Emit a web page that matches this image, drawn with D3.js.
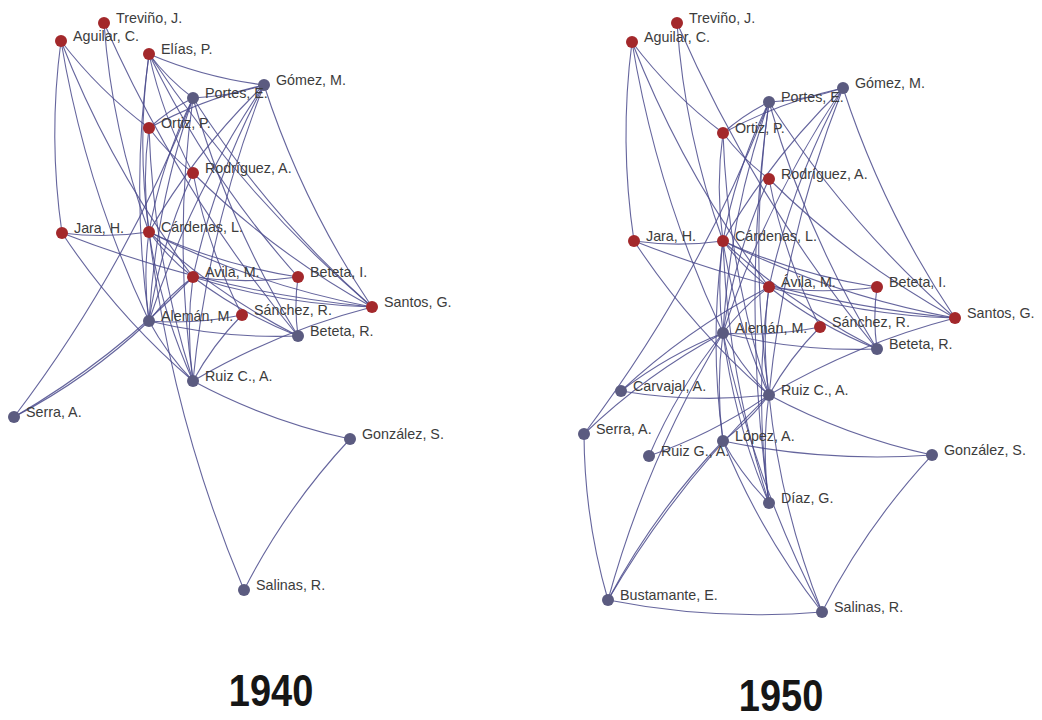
<!DOCTYPE html>
<html>
<head>
<meta charset="utf-8">
<script src="https://cdn.jsdelivr.net/npm/d3@7"></script>
<style>
  body { margin: 0; background: #fff; }
  svg { display: block; }
  .lbl { font-family: "Liberation Sans", Arial, sans-serif; font-size: 14.3px; fill: #3c3c3c; }
  .yr { font-family: "Liberation Sans", Arial, sans-serif; font-size: 38px; font-weight: bold; fill: #161616; }
</style>
</head>
<body>
<svg id="chart" width="1042" height="720"></svg>
<script>
// 1940 network: names, layout coords, group (1 = red)
var names1940 = ["Treviño, J.", "Aguilar, C.", "Elías, P.", "Gómez, M.", "Portes, E.", "Ortiz, P.", "Rodríguez, A.",
  "Jara, H.", "Cárdenas, L.", "Avila, M.", "Beteta, I.", "Santos, G.", "Sánchez, R.", "Alemán, M.",
  "Beteta, R.", "Ruiz C., A.", "Serra, A.", "González, S.", "Salinas, R."];
var xs1940 = [104, 61, 149, 264, 193, 149, 193, 62, 149, 193, 298, 372, 242, 149, 298, 193, 14, 350, 244];
var ys1940 = [23, 41, 54, 85, 98, 128, 173, 233, 232, 277, 277, 307, 315, 321, 336, 381, 417, 439, 590];
var group1940 = [1, 1, 1, 0, 0, 1, 1, 1, 1, 1, 1, 1, 1, 0, 0, 0, 0, 0, 0];
var links1940 = [
  ["Aguilar, C.", "Jara, H."], ["Aguilar, C.", "Ortiz, P."], ["Aguilar, C.", "Alemán, M."], ["Aguilar, C.", "Avila, M."],
  ["Treviño, J.", "Cárdenas, L."], ["Treviño, J.", "Beteta, R."],
  ["Elías, P.", "Gómez, M."], ["Elías, P.", "Portes, E."], ["Elías, P.", "Cárdenas, L."], ["Elías, P.", "Alemán, M."],
  ["Elías, P.", "Santos, G."], ["Elías, P.", "Rodríguez, A."], ["Elías, P.", "Beteta, I."],
  ["Portes, E.", "Gómez, M."], ["Portes, E.", "Ortiz, P."], ["Portes, E.", "Cárdenas, L."], ["Portes, E.", "Ruiz C., A."],
  ["Portes, E.", "Santos, G."], ["Portes, E.", "Alemán, M."], ["Portes, E.", "Beteta, R."],
  ["Gómez, M.", "Ortiz, P."], ["Gómez, M.", "Cárdenas, L."], ["Gómez, M.", "Avila, M."], ["Gómez, M.", "Alemán, M."],
  ["Gómez, M.", "Ruiz C., A."], ["Gómez, M.", "Santos, G."],
  ["Ortiz, P.", "Rodríguez, A."], ["Rodríguez, A.", "Santos, G."], ["Ortiz, P.", "Cárdenas, L."], ["Ortiz, P.", "Ruiz C., A."],
  ["Rodríguez, A.", "Alemán, M."], ["Rodríguez, A.", "Sánchez, R."],
  ["Jara, H.", "Cárdenas, L."], ["Jara, H.", "Santos, G."], ["Jara, H.", "Ruiz C., A."],
  ["Cárdenas, L.", "Avila, M."], ["Cárdenas, L.", "Beteta, I."], ["Cárdenas, L.", "Santos, G."], ["Cárdenas, L.", "Alemán, M."],
  ["Cárdenas, L.", "Ruiz C., A."], ["Cárdenas, L.", "Beteta, R."], ["Cárdenas, L.", "Salinas, R."],
  ["Avila, M.", "Beteta, I."], ["Avila, M.", "Santos, G."], ["Avila, M.", "Ruiz C., A."], ["Avila, M.", "Beteta, R."],
  ["Avila, M.", "Alemán, M."], ["Beteta, I.", "Beteta, R."],
  ["Alemán, M.", "Sánchez, R."], ["Alemán, M.", "Beteta, R."], ["Alemán, M.", "Ruiz C., A."],
  ["Sánchez, R.", "Ruiz C., A."], ["Santos, G.", "Ruiz C., A."],
  ["Serra, A.", "Portes, E."], ["Serra, A.", "Avila, M."], ["Serra, A.", "Alemán, M."],
  ["Ruiz C., A.", "González, S."], ["González, S.", "Salinas, R."]
];

// 1950 network
var names1950 = ["Treviño, J.", "Aguilar, C.", "Gómez, M.", "Portes, E.", "Ortiz, P.", "Rodríguez, A.",
  "Jara, H.", "Cárdenas, L.", "Ávila, M.", "Beteta, I.", "Santos, G.", "Sánchez, R.", "Alemán, M.",
  "Beteta, R.", "Carvajal, A.", "Ruiz C., A.", "Serra, A.", "Ruiz G., A.", "López, A.", "González, S.",
  "Díaz, G.", "Bustamante, E.", "Salinas, R."];
var xs1950 = [107, 62, 273, 199, 153, 199, 64, 153, 199, 307, 385, 250, 153, 307, 51, 199, 14, 79, 153, 362, 199, 38, 252];
var ys1950 = [23, 42, 88, 102, 133, 179, 241, 241, 287, 287, 318, 327, 333, 349, 391, 395, 434, 456, 441, 455, 503, 600, 612];
var group1950 = [1, 1, 0, 0, 1, 1, 1, 1, 1, 1, 1, 1, 0, 0, 0, 0, 0, 0, 0, 0, 0, 0, 0];
var links1950 = [
  ["Aguilar, C.", "Jara, H."], ["Aguilar, C.", "Ortiz, P."], ["Aguilar, C.", "Alemán, M."], ["Aguilar, C.", "Ávila, M."],
  ["Treviño, J.", "Cárdenas, L."], ["Treviño, J.", "Beteta, R."],
  ["Portes, E.", "Gómez, M."], ["Portes, E.", "Ortiz, P."], ["Portes, E.", "Cárdenas, L."], ["Portes, E.", "Ruiz C., A."],
  ["Portes, E.", "Santos, G."], ["Portes, E.", "Alemán, M."], ["Portes, E.", "Beteta, R."], ["Portes, E.", "Díaz, G."],
  ["Gómez, M.", "Ortiz, P."], ["Gómez, M.", "Cárdenas, L."], ["Gómez, M.", "Ávila, M."], ["Gómez, M.", "Alemán, M."],
  ["Gómez, M.", "Ruiz C., A."], ["Gómez, M.", "Santos, G."],
  ["Ortiz, P.", "Rodríguez, A."], ["Rodríguez, A.", "Santos, G."], ["Ortiz, P.", "Cárdenas, L."], ["Ortiz, P.", "Ruiz C., A."],
  ["Rodríguez, A.", "Alemán, M."], ["Rodríguez, A.", "Sánchez, R."],
  ["Jara, H.", "Cárdenas, L."], ["Jara, H.", "Santos, G."], ["Jara, H.", "Ruiz C., A."],
  ["Cárdenas, L.", "Ávila, M."], ["Cárdenas, L.", "Beteta, I."], ["Cárdenas, L.", "Santos, G."], ["Cárdenas, L.", "Alemán, M."],
  ["Cárdenas, L.", "Ruiz C., A."], ["Cárdenas, L.", "Beteta, R."], ["Cárdenas, L.", "López, A."], ["Cárdenas, L.", "Díaz, G."],
  ["Ávila, M.", "Beteta, I."], ["Ávila, M.", "Santos, G."], ["Ávila, M.", "Ruiz C., A."], ["Ávila, M.", "Beteta, R."],
  ["Ávila, M.", "Alemán, M."], ["Ávila, M.", "Carvajal, A."], ["Ávila, M.", "Díaz, G."], ["Beteta, I.", "Beteta, R."],
  ["Alemán, M.", "Sánchez, R."], ["Alemán, M.", "Beteta, R."], ["Alemán, M.", "Ruiz C., A."], ["Alemán, M.", "Carvajal, A."],
  ["Alemán, M.", "Serra, A."], ["Alemán, M.", "Ruiz G., A."], ["Alemán, M.", "López, A."], ["Alemán, M.", "Díaz, G."],
  ["Alemán, M.", "Salinas, R."], ["Alemán, M.", "Bustamante, E."],
  ["Sánchez, R.", "Ruiz C., A."], ["Santos, G.", "Ruiz C., A."],
  ["Serra, A.", "Portes, E."], ["Serra, A.", "Bustamante, E."], ["Carvajal, A.", "Ruiz C., A."],
  ["Ruiz G., A.", "Ruiz C., A."], ["López, A.", "Ruiz C., A."], ["López, A.", "González, S."], ["López, A.", "Díaz, G."],
  ["López, A.", "Salinas, R."], ["López, A.", "Bustamante, E."], ["Ruiz C., A.", "Díaz, G."],
  ["Ruiz C., A.", "González, S."], ["Ruiz C., A.", "Salinas, R."], ["Ruiz C., A.", "Bustamante, E."],
  ["González, S.", "Salinas, R."], ["Bustamante, E.", "Salinas, R."]
];

var svg = d3.select("#chart");
var color = d3.scaleOrdinal().domain([0, 1]).range(["#5b5b80", "#a3282b"]);

function drawNet(names, xs, ys, groups, links, ox, title, tx, ty) {
  var x = d3.scaleLinear().domain([0, 400]).range([ox, ox + 400]);
  var y = d3.scaleLinear().domain([0, 620]).range([0, 620]);
  var nodes = names.map(function(n, i) {
    return { name: n, x: xs[i], y: ys[i], g: groups[i] };
  });
  var byName = {};
  nodes.forEach(function(n) { byName[n.name] = n; });

  var g = svg.append("g");
  g.selectAll("path.link")
    .data(links)
    .enter().append("path")
    .attr("class", "link")
    .attr("fill", "none")
    .attr("stroke", "#4a4a8c")
    .attr("stroke-opacity", 0.85)
    .attr("stroke-width", 1.1)
    .attr("d", function(l) {
      var a = byName[l[0]], b = byName[l[1]];
      var x1 = x(a.x), y1 = y(a.y), x2 = x(b.x), y2 = y(b.y);
      var dx = x2 - x1, dy = y2 - y1;
      // slight bend, like the layout tool did
      var cx = (x1 + x2) / 2 - dy * 0.07, cy = (y1 + y2) / 2 + dx * 0.07;
      return "M" + x1 + "," + y1 + "Q" + cx + "," + cy + " " + x2 + "," + y2;
    });

  g.selectAll("circle")
    .data(nodes)
    .enter().append("circle")
    .attr("cx", function(d) { return x(d.x); })
    .attr("cy", function(d) { return y(d.y); })
    .attr("r", 6)
    .attr("fill", function(d) { return color(d.g); });

  g.selectAll("text.lbl")
    .data(nodes)
    .enter().append("text")
    .attr("class", "lbl")
    .attr("x", function(d) { return x(d.x) + 12; })
    .attr("y", function(d) { return y(d.y); })
    .text(function(d) { return d.name; });

  // year title, a bit tall and narrow like the original
  g.append("text")
    .attr("class", "yr")
    .attr("text-anchor", "middle")
    .attr("transform", "translate(" + tx + "," + ty + ") scale(1,1.15)")
    .text(title);
}

drawNet(names1940, xs1940, ys1940, group1940, links1940, 0, "1940", 271, 706);
drawNet(names1950, xs1950, ys1950, group1950, links1950, 570, "1950", 781, 711);
</script>
</body>
</html>
